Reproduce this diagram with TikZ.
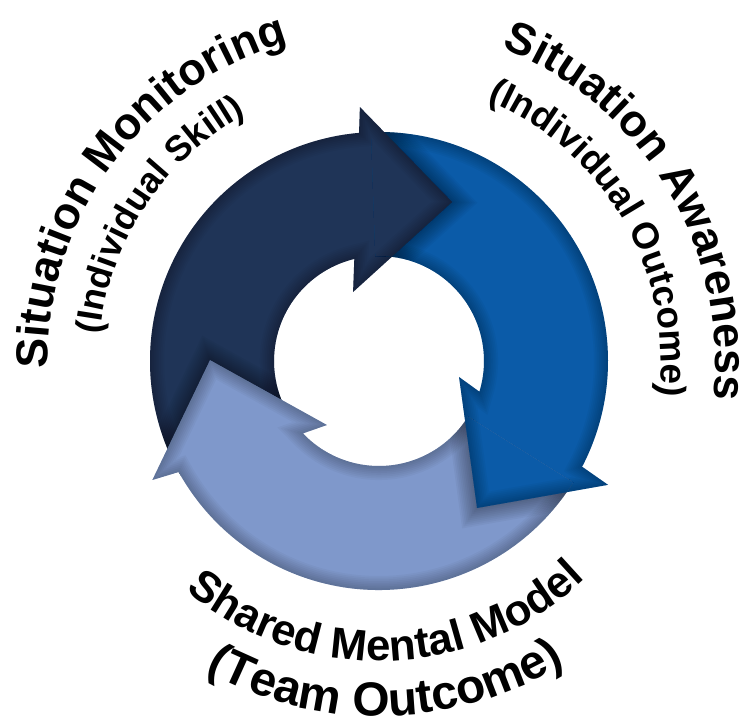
\documentclass[tikz,border=0pt]{standalone}
\usepackage{fontspec}
\setmainfont{Liberation Sans}
\usetikzlibrary{decorations.text}
\definecolor{monitordark}{HTML}{1F3457}
\definecolor{awareblue}{HTML}{0B5BA8}
\definecolor{sharedlight}{HTML}{7F98CB}
\tikzset{
  rim/.style={black,opacity=0.03,line width=#1},
  halo/.style={black,opacity=0.035,line width=#1},
  curvedlabel/.style={decorate,decoration={text along path,text align=center,text={#1}}}
}
\begin{document}
\begin{tikzpicture}[x=0.02cm,y=0.02cm]
\useasboundingbox (-379,-359) rectangle (361,361);
% ring: outer radius 229, inner radius 105
\def\monitorpath{(210:229) arc[start angle=210,end angle=95,radius=229] -- (94.3:254.7) -- (65.3:175) -- (110.6:73.7) -- (103.6:105) arc[start angle=103.6,end angle=210,radius=105] -- cycle}
\def\awarepath{(92:229) arc[start angle=92,end angle=-27.5,radius=229] -- (-28.4:260.4) -- (-56.3:176.7) -- (-11.3:81.6) -- (-17:105) arc[start angle=-17,end angle=92,radius=105] -- cycle}
\def\sharedpath{(-32:229) arc[start angle=-32,end angle=-151,radius=229] -- (-152.3:256) -- (179.7:169) -- (230.9:82.5) -- (-136.4:105) arc[start angle=-136.4,end angle=-32,radius=105] -- cycle}

%dark arrow (monitoring)
\fill[monitordark] \monitorpath;
\begin{scope}
\clip \monitorpath;
\foreach \w in {2,4,...,16} \draw[rim=\w pt] \monitorpath;
\end{scope}

%blue arrow (awareness)
\fill[awareblue] \awarepath;
\begin{scope}
\clip \awarepath;
\foreach \w in {2,4,...,16} \draw[rim=\w pt] \awarepath;
\end{scope}

%light arrow (shared model), its head lies on the dark arrow
\begin{scope}
\clip \monitorpath;
\foreach \w in {2,4,...,20} \draw[halo=\w pt] \sharedpath;
\end{scope}
\fill[sharedlight] \sharedpath;
\begin{scope}
\clip \sharedpath;
\foreach \w in {2,4,...,16} \draw[rim=\w pt] \sharedpath;
\end{scope}

%dark head again over the blue arrow
\begin{scope}
\clip \awarepath;
\foreach \w in {2,4,...,20} \draw[halo=\w pt] \monitorpath;
\fill[monitordark] \monitorpath;
\clip \monitorpath;
\foreach \w in {2,4,...,16} \draw[rim=\w pt] \monitorpath;
\end{scope}

%blue head again over the light arrow
\begin{scope}
\clip \sharedpath;
\foreach \w in {2,4,...,20} \draw[halo=\w pt] \awarepath;
\fill[awareblue] \awarepath;
\clip \awarepath;
\foreach \w in {2,4,...,16} \draw[rim=\w pt] \awarepath;
\end{scope}

%curved labels
\path[curvedlabel={|\fontsize{25.5}{30}\selectfont\bfseries|Situation Monitoring}] (188.6:331) arc[start angle=188.6,end angle=98.6,radius=331];
\path[curvedlabel={|\fontsize{20.4}{24}\selectfont\bfseries|(Individual Skill)}] (191.4:280) arc[start angle=191.4,end angle=101.4,radius=280];
\path[curvedlabel={|\fontsize{25.5}{30}\selectfont\bfseries|Situation Awareness}] (76:336) arc[start angle=76,end angle=-14,radius=336];
\path[curvedlabel={|\fontsize{21}{25}\selectfont\bfseries|(Individual Outcome)}] (75.2:282) arc[start angle=75.2,end angle=-14.8,radius=282];
\path[curvedlabel={|\fontsize{24.9}{30}\selectfont\bfseries|Shared Mental Model}] (221.7:300) arc[start angle=221.7,end angle=321.7,radius=300];
\path[curvedlabel={|\fontsize{27.2}{32}\selectfont\bfseries|(Team Outcome)}] (226.2:355) arc[start angle=226.2,end angle=316.2,radius=355];
\end{tikzpicture}
\end{document}
